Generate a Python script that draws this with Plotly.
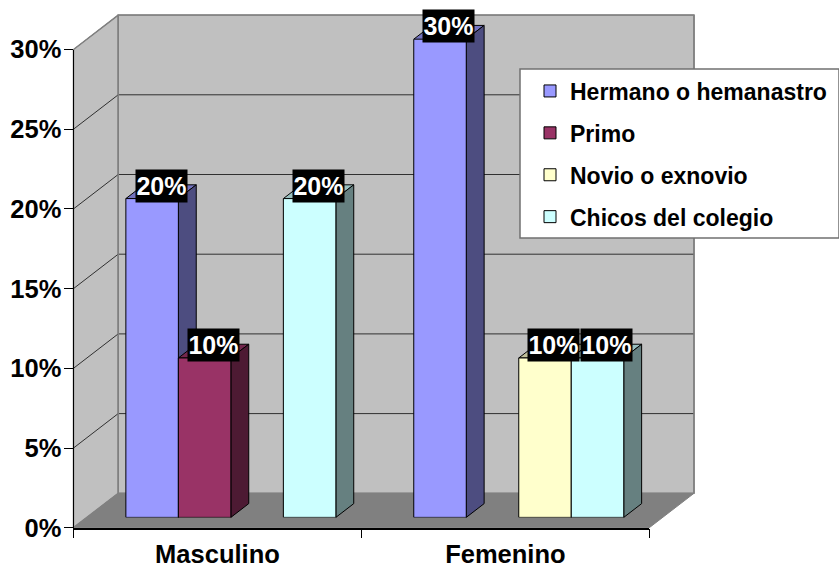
import plotly.graph_objects as go

categories = ["Masculino", "Femenino"]
series_names = ["Hermano o hemanastro", "Primo", "Novio o exnovio", "Chicos del colegio"]
hermano = [20, 30]
primo = [10, 0]
novio = [0, 10]
chicos = [20, 10]
series_values = [hermano, primo, novio, chicos]
y_ticks = [0, 5, 10, 15, 20, 25, 30]
y_labels = ["0%", "5%", "10%", "15%", "20%", "25%", "30%"]
front_colors = ["#9999FF", "#993366", "#FFFFCC", "#CCFFFF"]
side_colors = ["#4D4D80", "#4D1A33", "#808066", "#668080"]
top_colors = ["#7373BF", "#73264D", "#BFBF99", "#99BFBF"]

W, H = 839, 567
LEFT, RIGHT, ZERO, TOP = 73.5, 649.3, 527.7, 49.5
CAT_W = (RIGHT - LEFT) / len(categories)
PX_Y = (ZERO - TOP) / 30
DEPTH_X = 44.7 / CAT_W
DEPTH_Y = 34.4 / PX_Y
D0, D1 = 0.30, 0.70
GROUP = 0.7294
BAR = GROUP / len(series_names)
FONT = "Liberation Sans, Arial, sans-serif"


def proj(x, y, d):
    return x + d * DEPTH_X, y + d * DEPTH_Y


def poly(pts, fill, line="#000000", width=1, closed=True):
    xs, ys = zip(*pts)
    return go.Scatter(
        x=list(xs) + ([xs[0]] if closed else []),
        y=list(ys) + ([ys[0]] if closed else []),
        mode="lines", fill="toself" if closed else None, fillcolor=fill,
        line=dict(color=line, width=width),
        hoverinfo="skip", showlegend=False, xaxis="x", yaxis="y",
    )


fig = go.Figure()
x0, x1 = -0.5, len(categories) - 0.5
y_top = y_ticks[-1]

# walls and floor
fig.add_trace(poly([proj(x0, 0, 1), proj(x1, 0, 1), proj(x1, y_top, 1), proj(x0, y_top, 1)], "#C0C0C0", "#808080", 1.5))
fig.add_trace(poly([proj(x0, 0, 0), proj(x0, 0, 1), proj(x0, y_top, 1), proj(x0, y_top, 0)], "#C0C0C0", "#808080", 1.5))
fig.add_trace(poly([proj(x0, 0, 0), proj(x1, 0, 0), proj(x1, 0, 1), proj(x0, 0, 1)], "#808080", "#808080", 1))
# gridlines
for t in y_ticks[1:]:
    color = "#808080" if t == y_top else "#303030"
    fig.add_trace(poly([proj(x0, t, 0), proj(x0, t, 1), proj(x1, t, 1)], "rgba(0,0,0,0)", color, 1, closed=False))
# right edge of the back wall and left back edge stay gray
fig.add_trace(poly([proj(x0, 0, 1), proj(x0, y_top, 1)], "rgba(0,0,0,0)", "#808080", 1.5, closed=False))
fig.add_trace(poly([proj(x1, 0, 1), proj(x1, y_top, 1)], "rgba(0,0,0,0)", "#808080", 1.5, closed=False))

# top and side faces of the bars
annotations = []
for k, vals in enumerate(series_values):
    for i, v in enumerate(vals):
        if not v:
            continue
        left = i - GROUP / 2 + k * BAR
        right = left + BAR
        fig.add_trace(poly([proj(left, v, D0), proj(left, v, D1), proj(right, v, D1), proj(right, v, D0)], top_colors[k]))
        fig.add_trace(poly([proj(right, 0, D0), proj(right, v, D0), proj(right, v, D1), proj(right, 0, D1)], side_colors[k]))
        cx, cy = proj((left + right) / 2, v, (D0 + D1) / 2)
        annotations.append(dict(
            x=cx, y=cy, xref="x", yref="y", yshift=6, showarrow=False,
            text=f"{v}%", bgcolor="#000000", width=51, height=32, borderpad=0,
            font=dict(family=FONT, size=25, color="#FFFFFF", weight="bold"),
        ))

# front faces
for k, (name, vals) in enumerate(zip(series_names, series_values)):
    fig.add_trace(go.Bar(
        x=categories, y=[v if v else None for v in vals], name=name,
        legendgroup=name, marker=dict(color=front_colors[k], line=dict(color="#000000", width=1)),
        xaxis="x2", yaxis="y2", hoverinfo="skip",
    ))

# visible axes
fig.add_trace(go.Scatter(x=categories, y=[None, None], xaxis="x3", yaxis="y3",
                         mode="lines", showlegend=False, hoverinfo="skip"))

dom_x = [LEFT / W, RIGHT / W]
dom_y = [(H - ZERO) / H, (H - TOP) / H]
SHIFT_X, SHIFT_Y = D0 * 44.7, D0 * 34.4

fig.update_layout(
    template="none",
    width=W, height=H, autosize=False,
    margin=dict(l=0, r=0, t=0, b=0),
    paper_bgcolor="#FFFFFF", plot_bgcolor="rgba(0,0,0,0)",
    barmode="group", bargap=1 - GROUP, bargroupgap=0,
    annotations=annotations,
    xaxis=dict(domain=[0, 1], range=[x0 + (0 - LEFT) / CAT_W, x0 + (W - LEFT) / CAT_W], visible=False,
               fixedrange=True, automargin=False),
    yaxis=dict(domain=[0, 1], range=[(ZERO - H) / PX_Y, ZERO / PX_Y], visible=False,
               fixedrange=True, automargin=False),
    xaxis2=dict(domain=[dom_x[0] + SHIFT_X / W, dom_x[1] + SHIFT_X / W], type="category", range=[x0, x1],
                categoryorder="array", categoryarray=categories, visible=False, anchor="y2",
                fixedrange=True, automargin=False),
    yaxis2=dict(domain=[dom_y[0] + SHIFT_Y / H, dom_y[1] + SHIFT_Y / H], range=[0, y_top],
                visible=False, anchor="x2", fixedrange=True, automargin=False),
    xaxis3=dict(domain=dom_x, type="category", range=[x0, x1], categoryorder="array", categoryarray=categories,
                anchor="y3", tickson="boundaries", ticks="outside", ticklen=9, tickcolor="#000000",
                showline=True, linecolor="#000000", linewidth=1.5, showgrid=False, zeroline=False, fixedrange=True,
                ticklabelstandoff=3, automargin=False,
                tickfont=dict(family=FONT, size=25.5, color="#000000", weight="bold")),
    yaxis3=dict(domain=dom_y, range=[0, y_top], tickmode="array", tickvals=y_ticks, ticktext=y_labels,
                anchor="x3", ticks="outside", ticklen=9, tickcolor="#000000",
                showline=True, linecolor="#000000", linewidth=1, showgrid=False, zeroline=False, fixedrange=True,
                ticklabelstandoff=-3, automargin=False,
                tickfont=dict(family=FONT, size=25.5, color="#000000", weight="bold")),
    shapes=[dict(type="rect", xref="paper", yref="paper", x0=520 / W, x1=1.0, y0=(H - 238) / H, y1=(H - 69) / H,
                 fillcolor="#FFFFFF", line=dict(color="#707070", width=1.5), layer="above")],
    legend=dict(x=530 / W, xanchor="left", y=(H - 69.5) / H, yanchor="top", bgcolor="rgba(0,0,0,0)", borderwidth=0,
                tracegroupgap=9, traceorder="grouped", itemclick=False, itemdoubleclick=False,
                font=dict(family=FONT, size=23, color="#000000", weight="bold")),
    showlegend=True,
)

fig.write_html("out.html", config={"displayModeBar": False},
               post_script="document.body.style.margin='0';")
